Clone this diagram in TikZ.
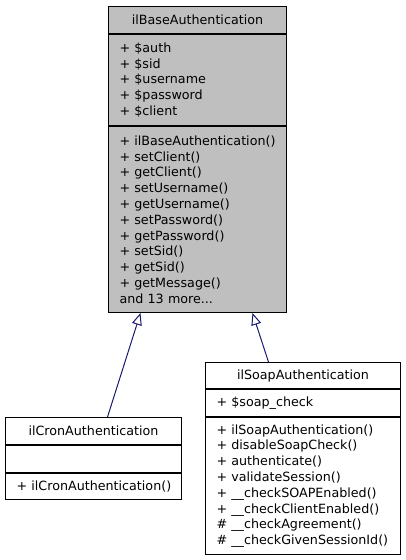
\documentclass[tikz,border=0pt]{standalone}
\usepackage{fontspec}
\setmainfont{DejaVu Sans}
\usetikzlibrary{arrows.meta,positioning}
\definecolor{umlgris}{HTML}{BFBFBF}
\definecolor{umlbleu}{HTML}{191970}

\begin{document}
\begin{tikzpicture}[x=1pt,y=-1pt]
%
% Styles
%
\tikzset{every node/.style={font=\fontsize{12.7}{15.8}\selectfont}};%
\tikzset{case/.style={draw=black, line width=1pt, rectangle, inner xsep=11pt, inner ysep=0pt, anchor=north west, align=left,
    execute at begin node={\hyphenpenalty=10000\exhyphenpenalty=10000\hbadness=10000\hfuzz=40pt}}};%
\tikzset{titre/.style={case, align=center}};%
\tikzset{heritage/.style={umlbleu, line width=1pt, -{Triangle[open, length=12pt, width=10pt]}}};%

\useasboundingbox (0,0) rectangle (405,560);%

%
% Base class
%
\node[titre, fill=umlgris, text width=156pt, minimum height=27pt] (base) at (108,6) {ilBaseAuthentication};%
\node[case, fill=umlgris, text width=156pt, minimum height=91pt, below=0pt of base] (baseattr)
  {+~\$auth\\+~\$sid\\+~\$username\\+~\$password\\+~\$client};%
\node[case, fill=umlgris, text width=156pt, minimum height=186pt, below=0pt of baseattr] (basemeth)
  {+~ilBaseAuthentication()\\+~setClient()\\+~getClient()\\+~setUsername()\\+~getUsername()\\%
   +~setPassword()\\+~getPassword()\\+~setSid()\\+~getSid()\\+~getMessage()\\and~13~more...};%

%
% Derived classes
%
\node[titre, text width=154pt, minimum height=27pt] (cron) at (5,417) {ilCronAuthentication};%
\node[case, text width=154pt, minimum height=27pt, below=0pt of cron] (cronattr) {};%
\node[case, text width=154pt, minimum height=26pt, below=0pt of cronattr] (cronmeth) {+~ilCronAuthentication()};%

\node[titre, text width=173pt, minimum height=26pt] (soap) at (205,362) {ilSoapAuthentication};%
\node[case, text width=173pt, minimum height=27pt, below=0pt of soap] (soapattr) {+~\$soap\_check};%
\node[case, text width=173pt, minimum height=137pt, below=0pt of soapattr] (soapmeth)
  {+~ilSoapAuthentication()\\+~disableSoapCheck()\\+~authenticate()\\+~validateSession()\\%
   +~\_\_checkSOAPEnabled()\\+~\_\_checkClientEnabled()\\\#~\_\_checkAgreement()\\\#~\_\_checkGivenSessionId()};%

%
% Inheritance
%
\draw[heritage] ([xshift=14pt]cron.north) -- ([xshift=-57pt]basemeth.south);%
\draw[heritage] ([xshift=-34.5pt]soap.north) -- ([xshift=55pt]basemeth.south);%
\end{tikzpicture}
\end{document}
